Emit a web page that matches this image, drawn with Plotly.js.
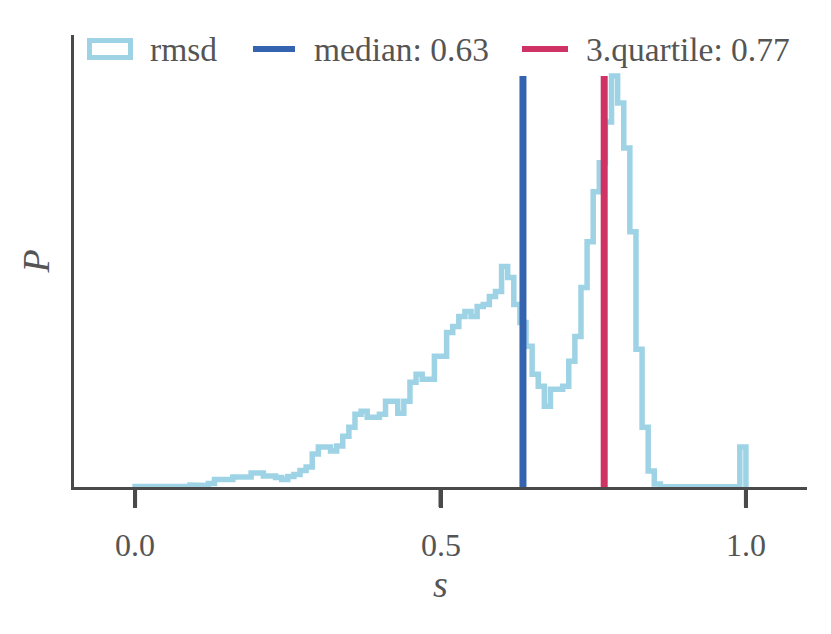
<!DOCTYPE html>
<html><head><meta charset="utf-8">
<script src="https://cdn.plot.ly/plotly-3.0.1.min.js"></script>
<style>body{margin:0;background:#fff}#chart{width:831px;height:634px}</style>
</head><body><div id="chart"></div>
<script>
// ---- data ----
const binStart = 0.0;
const binWidth = 0.01;
const rmsdCounts = [
  0.4, 0.4, 0.4, 0.4, 0.4, 0.4, 0.5, 0.5, 0.8, 2,
  2, 1.5, 3.5, 7.5, 7.5, 7.5, 10, 10, 10, 14,
  14, 11, 11, 9.5, 7.5, 10.5, 12.5, 16.5, 20, 33,
  40, 40, 36, 41, 51, 60, 73, 76, 70, 70,
  73, 86, 86, 74, 86, 105, 113, 108, 108, 131,
  131, 155, 161, 171, 176, 171, 181, 183, 191, 196,
  221, 210, 183, 165, 141, 113, 101, 81, 98, 98,
  101, 126, 151, 200, 246, 296, 325, 366, 412, 385,
  340, 256, 138, 60, 16, 3, 0.3, 0.3, 0.3, 0.3,
  0.3, 0.3, 0.3, 0.3, 0.3, 0.3, 0.3, 0.3, 0.3, 40
];
const medianValue = 0.635;
const quartileValue = 0.768;
const seriesNames = ['rmsd', 'median: 0.63', '3.quartile: 0.77'];
const xTickValues = [0.0, 0.5, 1.0];
const xTickLabels = ['0.0', '0.5', '1.0'];
const xTitle = '<i>s</i>';
const yTitle = '<i>P</i>';

// ---- styles ----
const histColor = 'rgb(158,211,230)';
const medianColor = 'rgb(52,99,176)';
const quartileColor = 'rgb(207,50,100)';
const axisColor = '#4a4a4a';
const textColor = '#555555';
const serif = 'Liberation Serif, Times New Roman, serif';
const xRange = [-0.1, 1.1];

// ---- layout geometry ----
const W = 831, H = 634;
const M = {l: 74, r: 24, t: 35, b: 147};
const pw = W - M.l - M.r, ph = H - M.t - M.b;
const px = v => (v - M.l) / pw;
const py = v => (H - M.b - v) / ph;
const dataToPaperX = v => (v - xRange[0]) / (xRange[1] - xRange[0]);

// ---- build step outline from bins ----
const xs = [binStart], ys = [0];
rmsdCounts.forEach((c, i) => {
  const left = binStart + i * binWidth;
  const right = left + binWidth;
  xs.push(left, right);
  ys.push(c, c);
});
xs.push(binStart + rmsdCounts.length * binWidth);
ys.push(0);
const maxCount = Math.max(...rmsdCounts);

const traces = [
  {x: xs, y: ys, type: 'scatter', mode: 'lines', name: seriesNames[0],
   line: {color: histColor, width: 5.5, shape: 'linear'}, showlegend: false, hoverinfo: 'skip'},
  {x: [medianValue, medianValue], y: [0, maxCount], type: 'scatter', mode: 'lines',
   name: seriesNames[1], line: {color: medianColor, width: 7}, showlegend: false},
  {x: [quartileValue, quartileValue], y: [0, maxCount], type: 'scatter', mode: 'lines',
   name: seriesNames[2], line: {color: quartileColor, width: 7}, showlegend: false}
];

// tick marks (backup to the native ticks, same place and colour)
const shapes = xTickValues.map(v => ({
  type: 'line', xref: 'paper', yref: 'paper', x0: dataToPaperX(v), x1: dataToPaperX(v),
  y0: py(489), y1: py(507), line: {color: axisColor, width: 4}, layer: 'above'
}));

// manual legend
shapes.push(
  {type: 'rect', xref: 'paper', yref: 'paper', x0: px(89.5), x1: px(130.5), y0: py(57.5), y1: py(40.5),
   line: {color: histColor, width: 5}, fillcolor: 'rgba(0,0,0,0)'},
  {type: 'line', xref: 'paper', yref: 'paper', x0: px(253), x1: px(295), y0: py(49), y1: py(49),
   line: {color: medianColor, width: 6}},
  {type: 'line', xref: 'paper', yref: 'paper', x0: px(522), x1: px(568), y0: py(49), y1: py(49),
   line: {color: quartileColor, width: 6}}
);
const legendTextX = [148, 312, 584];
const annotations = seriesNames.map((n, i) => ({
  text: n, xref: 'paper', yref: 'paper', x: px(legendTextX[i]), y: py(49),
  xanchor: 'left', yanchor: 'middle', showarrow: false,
  font: {family: serif, size: 33.5, color: textColor}
}));
// x tick labels, placed at the axis' tick values
xTickValues.forEach((v, i) => annotations.push({
  text: xTickLabels[i], xref: 'x', yref: 'paper', x: v, y: py(545),
  xanchor: 'center', yanchor: 'middle', showarrow: false,
  font: {family: serif, size: 32, color: textColor}
}));
// x axis title
annotations.push({
  text: xTitle, xref: 'paper', yref: 'paper', x: dataToPaperX(0.5), y: py(584),
  xanchor: 'center', yanchor: 'middle', showarrow: false,
  font: {family: serif, size: 38, color: textColor}
});

const layout = {
  width: W, height: H,
  margin: M,
  paper_bgcolor: '#ffffff', plot_bgcolor: '#ffffff',
  showlegend: false,
  xaxis: {
    range: xRange, showgrid: false, zeroline: false,
    showline: true, linecolor: axisColor, linewidth: 3,
    ticks: 'outside', ticklen: 18, tickwidth: 4, tickcolor: axisColor,
    tickvals: xTickValues, ticktext: xTickLabels, showticklabels: false
  },
  yaxis: {
    range: [0, maxCount * 1.1], showgrid: false, zeroline: false,
    showline: true, linecolor: axisColor, linewidth: 3,
    ticks: '', showticklabels: false,
    title: {text: yTitle, font: {family: serif, size: 38, color: textColor}, standoff: 10}
  },
  shapes: shapes,
  annotations: annotations
};

Plotly.newPlot('chart', traces, layout, {staticPlot: true, displayModeBar: false});
</script>
</body></html>
